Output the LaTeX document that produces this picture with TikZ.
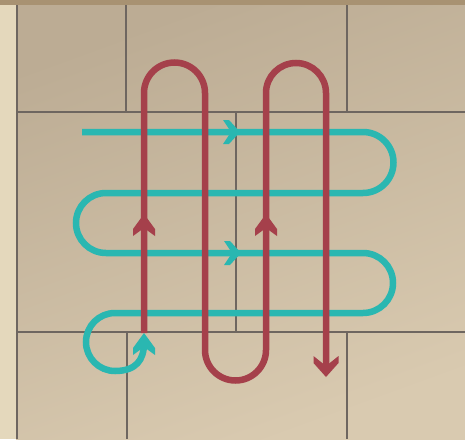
\documentclass[tikz,border=0pt]{standalone}
\definecolor{topband}{HTML}{A89272}
\definecolor{sideband}{HTML}{E4D8BC}
\definecolor{tileA}{HTML}{BCAC94}
\definecolor{tileB}{HTML}{D9CAB0}
\definecolor{grout}{HTML}{6E6660}
\definecolor{pipered}{HTML}{A5404B}
\definecolor{pipeteal}{HTML}{2AB7B1}
\begin{document}
\begin{tikzpicture}[x=1pt,y=-1pt,
  groutline/.style={draw=grout,line width=2pt},
  redpipe/.style={draw=pipered,line width=6.5pt},
  tealpipe/.style={draw=pipeteal,line width=6.5pt},
  redchev/.pic={\fill[pic actions] (0,0) -- (-15,11) -- (-22,11) -- (-14,0) -- (-22,-11) -- (-15,-11) -- cycle;},
  downchev/.pic={\fill[pic actions] (0,0) -- (-14,12.5) -- (-21,12.5) -- (-11,0) -- (-21,-12.5) -- (-14,-12.5) -- cycle;},
  tealchev/.pic={\fill[pic actions] (0,0) -- (-11,12) -- (-17,12) -- (-9,0) -- (-17,-12) -- (-11,-12) -- cycle;}]
\useasboundingbox (0,0) rectangle (465,439);
% background
\fill[sideband] (0,0) rectangle (16,439);
\shade[top color=tileA, bottom color=tileB, shading angle=20] (16,5) rectangle (465,439);
\fill[topband] (0,0) rectangle (465,5);
% grout
\draw[groutline] (16.5,5) -- (16.5,439);
\draw[groutline] (16,112) -- (465,112);
\draw[groutline] (16,332) -- (465,332);
\draw[groutline] (126,5) -- (126,112);
\draw[groutline] (347,5) -- (347,112);
\draw[groutline] (236,112) -- (236,332);
\draw[groutline] (126.5,332) -- (126.5,439);
\draw[groutline] (347,332) -- (347,439);
% teal pipe
\draw[tealpipe] (82,132) -- (363,132) arc[start angle=-90,end angle=90,radius=30.5]
  -- (106,193) arc[start angle=270,end angle=90,radius=30]
  -- (363,253) arc[start angle=-90,end angle=90,radius=30]
  -- (115,313) arc[start angle=270,end angle=90,radius=29]
  .. controls (136,371) and (144,360) .. (144,343);
\pic[fill=pipeteal] at (240,132) {tealchev};
\pic[fill=pipeteal] at (241,253) {tealchev};
\pic[fill=pipeteal,rotate=90] at (144,333) {redchev};
% red pipe
\draw[redpipe] (144,333) -- (144,93) arc[start angle=180,end angle=360,radius=30.5]
  -- (205,350) arc[start angle=180,end angle=0,radius=30.5]
  -- (266,93) arc[start angle=180,end angle=360,radius=30]
  -- (326,367);
\pic[fill=pipered,rotate=90] at (144,214) {redchev};
\pic[fill=pipered,rotate=90] at (266,214) {redchev};
\pic[fill=pipered,rotate=-90] at (326,377) {downchev};
\end{tikzpicture}
\end{document}
